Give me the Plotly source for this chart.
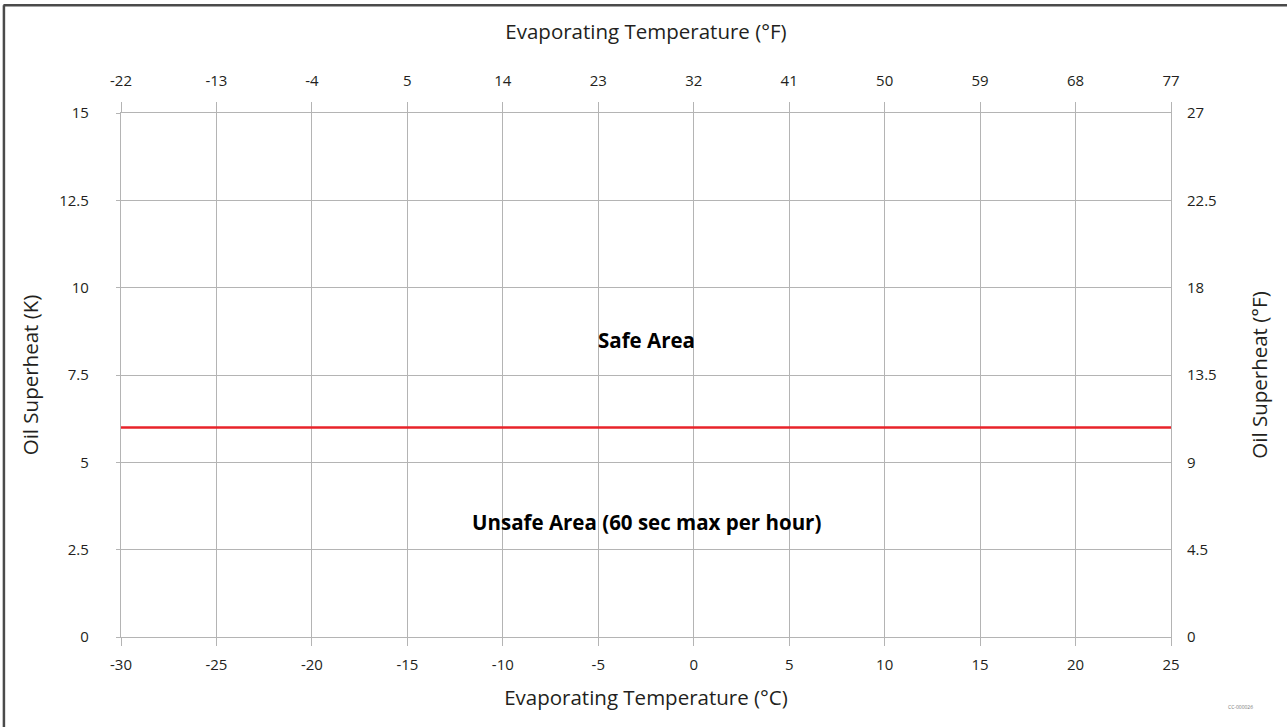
import plotly.graph_objects as go

# evaporating temperature range (°C) and the limit line
temp_c = [-30, 25]
limit_k = [6, 6]

x_ticks_c = [-30, -25, -20, -15, -10, -5, 0, 5, 10, 15, 20, 25]
x_ticks_f = [-22, -13, -4, 5, 14, 23, 32, 41, 50, 59, 68, 77]
y_ticks_k = [0, 2.5, 5, 7.5, 10, 12.5, 15]
y_ticks_f = [0, 4.5, 9, 13.5, 18, 22.5, 27]

labels = ["Safe Area", "Unsafe Area (60 sec max per hour)"]
label_x = [-2.5, -2.5]
label_y = [8.5, 3.3]

FONT = "Open Sans"
GRID = "#b4b4b4"
TXT = "#231f20"


def txt(vals):
    # plain hyphen for negatives, like the original
    return [str(v) for v in vals]


fig = go.Figure()
fig.add_trace(go.Scatter(x=temp_c, y=limit_k, mode="lines",
                         line=dict(color="#e8232a", width=2.5),
                         showlegend=False, hoverinfo="skip"))
# dummy trace to carry the secondary axes
fig.add_trace(go.Scatter(x=[x_ticks_f[0]], y=[y_ticks_f[0]], xaxis="x2", yaxis="y2",
                         mode="markers", marker=dict(opacity=0),
                         showlegend=False, hoverinfo="skip"))

for t, x, y in zip(labels, label_x, label_y):
    fig.add_annotation(x=x, y=y, text="<b>" + t + "</b>", showarrow=False,
                       font=dict(family=FONT, size=20.5, color="black"))

tickfont = dict(family=FONT, size=15, color=TXT)
titlefont = dict(family=FONT, size=20.5, color=TXT)

fig.update_layout(
    width=1287, height=727,
    margin=dict(l=121, r=116, t=113, b=90),
    paper_bgcolor="white", plot_bgcolor="white",
    showlegend=False,
    xaxis=dict(range=[-30, 25], tickvals=x_ticks_c, ticktext=txt(x_ticks_c),
               showgrid=True, gridcolor=GRID, gridwidth=1.2, zeroline=False,
               showline=True, linecolor=GRID, linewidth=1.2, mirror=True,
               ticks="outside", ticklen=8, tickcolor=GRID, tickwidth=1.2,
               tickfont=tickfont, ticklabelstandoff=6,
               title=dict(text="Evaporating Temperature (°C)", font=titlefont, standoff=17)),
    xaxis2=dict(range=[-22, 77], tickvals=x_ticks_f, ticktext=txt(x_ticks_f),
                overlaying="x", side="top", showgrid=False, zeroline=False,
                ticks="outside", ticklen=10, tickcolor=GRID, tickwidth=1.2,
                tickfont=tickfont, ticklabelstandoff=10,
                title=dict(text="Evaporating Temperature (°F)", font=titlefont, standoff=24)),
    yaxis=dict(range=[0, 15], tickvals=y_ticks_k, ticktext=txt(y_ticks_k),
               showgrid=True, gridcolor=GRID, gridwidth=1.2, zeroline=False,
               showline=True, linecolor=GRID, linewidth=1.2, mirror=True,
               ticks="outside", ticklen=4, tickcolor=GRID, tickwidth=1.2,
               tickfont=tickfont, ticklabelstandoff=24,
               title=dict(text="Oil Superheat (K)", font=titlefont, standoff=15)),
    yaxis2=dict(range=[0, 27], tickvals=y_ticks_f, ticktext=txt(y_ticks_f),
                overlaying="y", side="right", showgrid=False, zeroline=False,
                ticks="", tickfont=tickfont, ticklabelstandoff=15,
                title=dict(text="Oil Superheat (°F)", font=titlefont, standoff=36)),
)

# outer frame (top and left edges visible, rest clipped by the page)
fig.add_shape(type="line", xref="paper", yref="paper", x0=-0.112, x1=1.12,
              y0=1.2055, y1=1.2055, line=dict(color="#4a4a4a", width=2.5))
fig.add_shape(type="line", xref="paper", yref="paper", x0=-0.1115, x1=-0.1115,
              y0=1.2055, y1=-0.2, line=dict(color="#4a4a4a", width=2.5))

fig.add_annotation(xref="paper", yref="paper", x=1.08, y=-0.143, text="CC-000026",
                   showarrow=False, font=dict(family=FONT, size=5, color="#777"))

fig.write_html("out.html", config={"displayModeBar": False},
               post_script="document.body.style.margin='0px';")
